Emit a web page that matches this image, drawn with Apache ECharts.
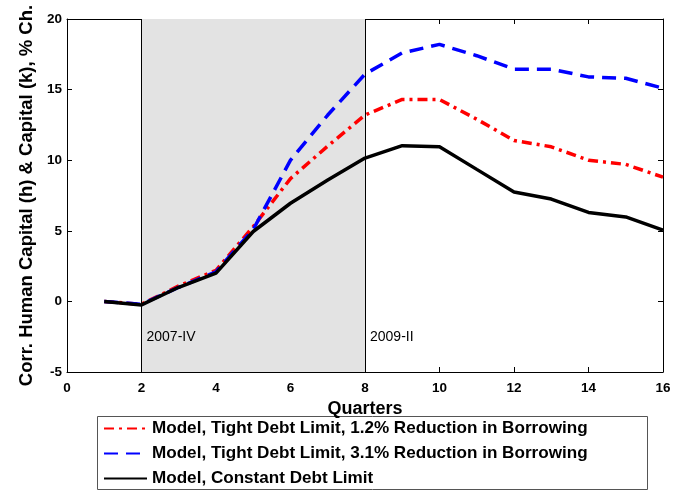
<!DOCTYPE html>
<html><head><meta charset="utf-8">
<script src="https://cdn.jsdelivr.net/npm/echarts@6/dist/echarts.min.js"></script>
<style>html,body{margin:0;padding:0;background:#fff}#c{width:677px;height:491px}</style>
</head><body><div id="c"></div>
<script>
const quarters = [1,2,3,4,5,6,7,8,9,10,11,12,13,14,15,16];
const redValues = [0.0,-0.2,1.1,2.2,5.3,8.7,11.0,13.2,14.3,14.3,12.9,11.4,10.95,10.0,9.7,8.8];
const blueValues = [0.0,-0.2,1.0,2.1,5.1,10.0,13.2,16.1,17.6,18.2,17.4,16.45,16.45,15.9,15.8,15.1];
const blackValues = [0.0,-0.25,1.0,2.0,4.95,6.95,8.6,10.15,11.03,10.96,9.35,7.75,7.25,6.3,5.98,5.05];
const seriesNames = ['Model, Tight Debt Limit, 1.2% Reduction in Borrowing','Model, Tight Debt Limit, 3.1% Reduction in Borrowing','Model, Constant Debt Limit'];
const shadeRange = [2, 8];
const shadeLabels = ['2007-IV', '2009-II'];
const xTicks = {min:0, max:16, interval:2};
const yTicks = {min:-5, max:20, interval:5};

const pairs = v => quarters.map((q,i)=>[q, v[i]]);
const chart = echarts.init(document.getElementById('c'), null, {renderer:'canvas'});
const F = 'Liberation Sans, Arial, sans-serif';
const grid = {left:67, right:14, top:19, bottom:119, show:false};
const axisCommon = () => ({
  axisLine:{show:true, onZero:false, lineStyle:{color:'#000', width:1}},
  axisTick:{show:true, inside:true, length:5, lineStyle:{color:'#000'}},
  splitLine:{show:false}
});
chart.setOption({
  animation:false,
  grid,
  xAxis:[
    Object.assign({type:'value', position:'bottom', min:xTicks.min, max:xTicks.max, interval:xTicks.interval,
      name:'Quarters', nameLocation:'middle', nameGap:24,
      nameTextStyle:{fontFamily:F, fontWeight:'bold', fontSize:18, color:'#000'},
      axisLabel:{fontFamily:F, fontWeight:'bold', fontSize:13.5, color:'#000', margin:9}}, axisCommon()),
    Object.assign({type:'value', position:'top', min:xTicks.min, max:xTicks.max, interval:xTicks.interval,
      axisLabel:{show:false}}, axisCommon())
  ],
  yAxis:[
    Object.assign({type:'value', position:'left', min:yTicks.min, max:yTicks.max, interval:yTicks.interval,
      name:'Corr. Human Capital (h) & Capital (k), % Ch.', nameLocation:'middle', nameGap:30,
      nameTextStyle:{fontFamily:F, fontWeight:'bold', fontSize:18.5, color:'#000'},
      axisLabel:{fontFamily:F, fontWeight:'bold', fontSize:13.5, color:'#000', margin:5}}, axisCommon()),
    Object.assign({type:'value', position:'right', min:yTicks.min, max:yTicks.max, interval:yTicks.interval,
      axisLabel:{show:false}}, axisCommon())
  ],
  legend:{
    orient:'vertical', left:103, top:420,
    padding:0, itemGap:8, itemWidth:43, itemHeight:17,
    itemStyle:{opacity:0},
    textStyle:{fontFamily:F, fontWeight:'bold', fontSize:17.1, color:'#000'},
    data:seriesNames
  },
  series:[
    {name:seriesNames[0], type:'line', data:pairs(redValues), symbol:'none',
     lineStyle:{color:'#ff0000', width:3.5, type:[10,5,3,5]}, itemStyle:{color:'#ff0000'}, z:3,
     markArea:{silent:true, itemStyle:{color:'#e3e3e3'}, data:[[{xAxis:shadeRange[0]},{xAxis:shadeRange[1]}]]},
     markLine:{silent:true, symbol:'none', label:{show:false}, lineStyle:{color:'#000', width:1, type:'solid'},
       data:[{xAxis:shadeRange[0]},{xAxis:shadeRange[1]}]}
    },
    {name:seriesNames[1], type:'line', data:pairs(blueValues), symbol:'none',
     lineStyle:{color:'#0000ff', width:3.5, type:[14,8]}, itemStyle:{color:'#0000ff'}, z:4},
    {name:seriesNames[2], type:'line', data:pairs(blackValues), symbol:'none',
     lineStyle:{color:'#000', width:3.5, type:'solid'}, itemStyle:{color:'#000'}, z:5}
  ]
});
const p1 = chart.convertToPixel({xAxisIndex:0, yAxisIndex:0}, [shadeRange[0], -2.5]);
const p2 = chart.convertToPixel({xAxisIndex:0, yAxisIndex:0}, [shadeRange[1], -2.5]);
chart.setOption({graphic:[
  {type:'rect', left:97, top:416, z:0, shape:{width:550, height:73}, style:{fill:'#fff', stroke:'#555', lineWidth:1}},
  {type:'text', left:p1[0]+5, top:p1[1]-7, z:10, style:{text:shadeLabels[0], fontFamily:F, fontSize:14, fill:'#000'}},
  {type:'text', left:p2[0]+5, top:p2[1]-7, z:10, style:{text:shadeLabels[1], fontFamily:F, fontSize:14, fill:'#000'}}
]});
</script></body></html>
